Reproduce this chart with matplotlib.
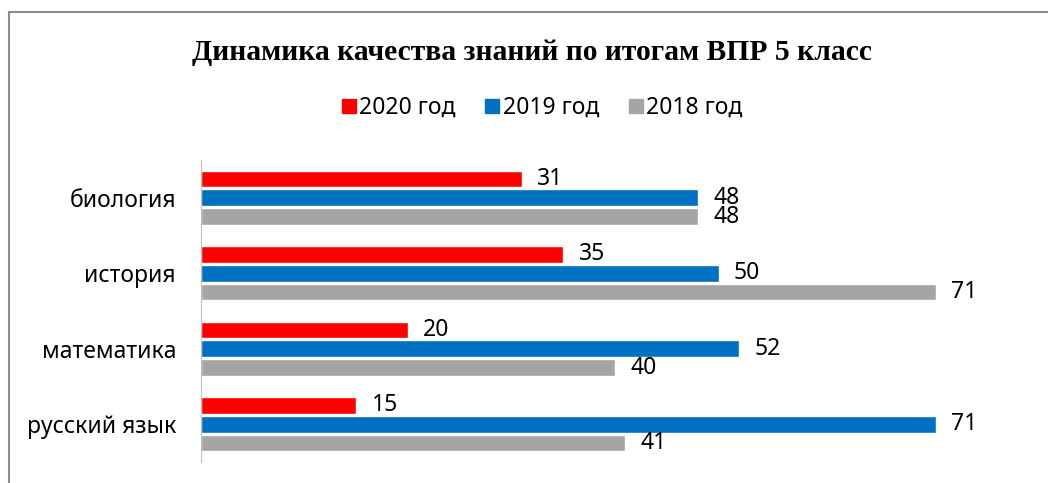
import numpy as np
import matplotlib.pyplot as plt
from matplotlib.lines import Line2D

# data
subjects = ["биология", "история", "математика", "русский язык"]
years = ["2020 год", "2019 год", "2018 год"]
v2020 = [31, 35, 20, 15]
v2019 = [48, 50, 52, 71]
v2018 = [48, 71, 40, 41]
colors = ["#FF0000", "#0070C0", "#A5A5A5"]

plt.rcParams['font.family'] = ['Noto Sans', 'DejaVu Sans']

fig = plt.figure(figsize=(10.48, 4.83), dpi=100)
ax = fig.add_axes([201 / 1048, 21 / 483, 800 / 1048, 302 / 483])

y = np.arange(len(subjects))
step = 0.25
for i, (vals, c) in enumerate(zip([v2020, v2019, v2018], colors)):
    pos = y + (i - 1) * step
    bars = ax.barh(pos, vals, height=0.22, color=c, edgecolor="white", linewidth=1)
    for b, v in zip(bars, vals):
        ax.annotate(str(v), (b.get_width(), b.get_y() + b.get_height() / 2),
                    xytext=(11, 0), textcoords="offset points",
                    ha="left", va="center", fontsize=16.5)

ax.set_xlim(0, 800 / 10.35)
ax.set_ylim(len(subjects) - 0.5, -0.5)
ax.set_yticks(y)
ax.set_yticklabels(subjects, fontsize=16.5)
ax.tick_params(axis="y", length=0, pad=18)
ax.set_xticks([])
for s in ["top", "right", "bottom"]:
    ax.spines[s].set_visible(False)
ax.spines["left"].set_color("#BFBFBF")

fig.text(0.508, 1 - 53 / 483, "Динамика качества знаний по итогам ВПР 5 класс",
         ha="center", va="center", fontsize=21.3, fontweight="bold",
         family="Liberation Serif")

handles = [Line2D([], [], marker="s", linestyle="none", markersize=10.5,
                  markerfacecolor=c, markeredgecolor=c) for c in colors]
fig.legend(handles, years, loc="center", bbox_to_anchor=(541 / 1048, 1 - 108 / 483),
           ncol=3, frameon=False, fontsize=16.5, handletextpad=0.05,
           columnspacing=1.2, handlelength=0.8)

# chart border
fig.add_artist(Line2D([8.5 / 1048, 8.5 / 1048], [0, 1 - 11.5 / 483],
                      color="#8C8C8C", linewidth=1.5))
fig.add_artist(Line2D([8.5 / 1048, 1], [1 - 11.5 / 483, 1 - 11.5 / 483],
                      color="#8C8C8C", linewidth=1.5))

fig.savefig("out.png", dpi=100)
